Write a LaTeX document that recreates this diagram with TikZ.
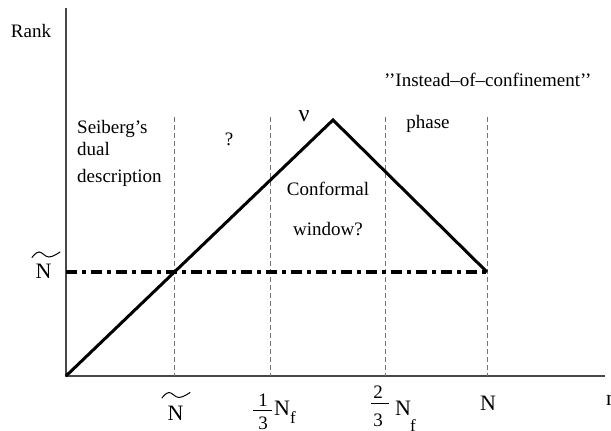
\documentclass[tikz,border=0pt]{standalone}
\usepackage{amsmath}
\usepackage{fontspec}
\setmainfont{Liberation Serif}
\begin{document}
\begin{tikzpicture}[x=1pt,y=-1pt,
  axis/.style={draw=black!72, line width=1.3pt},
  guide/.style={draw=black!55, line width=0.9pt, dash pattern=on 5pt off 3pt},
  curve/.style={draw=black, line width=3pt, line join=miter},
  level/.style={draw=black, line width=3.2pt, dash pattern=on 11pt off 5pt on 4pt off 5pt},
  lbl/.style={font=\fontsize{19}{22}\selectfont, inner sep=0pt},
  big/.style={font=\fontsize{22}{24}\selectfont, inner sep=0pt},
  sub/.style={font=\fontsize{17}{19}\selectfont, inner sep=0pt},
  digit/.style={font=\fontsize{19}{20}\selectfont, inner sep=0pt},
  fracbar/.style={draw=black, line width=0.9pt},
  tildecurve/.style={draw=black, line width=1pt, line cap=round},
]
\useasboundingbox (0,0) rectangle (611,431);

% axes
\coordinate (O) at (66,376);
\coordinate (ytop) at (66,8);
\coordinate (xend) at (605,376);
\draw[axis] (ytop) -- (O) -- (xend);

% vertical guides
\foreach \gx/\nm in {174/ga,270/gb,385/gc,487/gd}{
  \coordinate (\nm t) at (\gx,117);
  \coordinate (\nm b) at (\gx,376);
  \draw[guide] (\nm t) -- (\nm b);
}

% level line and triangle
\coordinate (L) at (66,272);
\coordinate (R) at (487,272);
\coordinate (peak) at (333,120);
\draw[level] (L) -- (R);
\draw[curve] (O) -- (peak) -- (R);

% texts
\node[lbl, anchor=base] (rank) at (31,37) {Rank};
\node[lbl, anchor=base west] (s1) at (77,133) {Seiberg’s};
\node[lbl, anchor=base west] (s2) at (77,155) {dual};
\node[lbl, anchor=base west] (s3) at (77,182) {description};
\node[lbl, anchor=base] (q) at (229,145) {?};
\node[font=\fontsize{24}{26}\selectfont, inner sep=0pt, anchor=base] (nu) at (304,121) {ν};
\node[lbl, anchor=base] (c1) at (328,195) {Conformal};
\node[lbl, anchor=base] (c2) at (328,235) {window?};
\node[lbl, anchor=base west] (inst) at (384,86) {{'}{'}Instead--of--confinement{'}{'}};
\node[lbl, anchor=base] (ph) at (428,128) {phase};

% y-axis N tilde
\node[big, anchor=base] (nY) at (43.5,278) {N};
\coordinate (tY) at (46,254.5);
\draw[tildecurve, shift={(tY)}] plot[smooth, tension=0.7] coordinates {(-14,3) (-7,-2.5) (3,2.5) (14,-2.5)};

% x-axis labels
\node[big, anchor=base] (nX) at (175.5,420) {N};
\coordinate (tX) at (176,395);
\draw[tildecurve, shift={(tX)}] plot[smooth, tension=0.7] coordinates {(-14,3) (-7,-2.5) (3,2.5) (14,-2.5)};

% 1/3 N_f
\node[digit, anchor=base] (a1) at (263,406.5) {1};
\node[digit, anchor=base] (a3) at (263,429) {3};
\coordinate (a1l) at (253,410);
\coordinate (a1r) at (272,410);
\draw[fracbar] (a1l) -- (a1r);
\node[big, anchor=base west] (n13) at (274,415) {N};
\node[sub, anchor=base west] (s13) at (290,423) {f};

% 2/3 N_f
\node[digit, anchor=base] (b2) at (378,398.5) {2};
\node[digit, anchor=base] (b3) at (378,426.5) {3};
\coordinate (b2l) at (371,403);
\coordinate (b2r) at (389,403);
\draw[fracbar] (b2l) -- (b2r);
\node[big, anchor=base west] (n23) at (395,415) {N};
\node[sub, anchor=base west] (s23) at (410,431.5) {f};

\node[big, anchor=base] (nN) at (488,410) {N};
\node[big, anchor=base west] (nn) at (606,405) {n};
\end{tikzpicture}
\end{document}
